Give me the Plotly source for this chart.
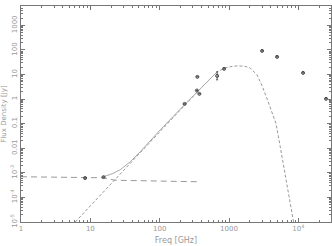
import plotly.graph_objects as go

# observed photometry (GHz, Jy)
obs_freq = [8.4, 15.5, 229, 344, 374, 350, 674, 849, 3000, 4930, 11700, 25100]
obs_flux = [6.15e-4, 6.7e-4, 0.64, 2.24, 1.64, 8.07, 8.85, 17.1, 92, 52.5, 11.7, 1.03]
obs_err_hi = [0, 0, 0, 0, 0, 0, 4.05, 0, 0, 0, 0, 0]
obs_err_lo = [0, 0, 0, 0, 0, 0, 2.75, 0, 0, 0, 0, 0]

# flat (radio) component
flat_freq = [1, 8.4, 15.3, 22.9, 73, 346]
flat_flux = [6.95e-4, 6.6e-4, 6.3e-4, 5.0e-4, 4.78e-4, 4.35e-4]

# dust component
dust_freq = [6.06, 7.15, 9.97, 13.9, 19.4, 31.9, 52.4, 102, 197, 383, 674, 879, 1109,
             1353, 1706, 2014, 2541, 3000, 3541, 4179, 4774, 5448, 6220, 7110, 7850, 8530]
dust_flux = [1e-5, 1.64e-5, 4.6e-5, 1.23e-4, 3.28e-4, 1.47e-3, 6.6e-3, 0.049, 0.367, 2.62,
             12.9, 18.7, 21.5, 22.6, 21.5, 18.7, 9.73, 3.47, 1.03, 0.305, 0.099, 0.0127,
             1.61e-3, 1.7e-4, 3.16e-5, 1e-5]

# total model
tot_freq = [15.3, 20.7, 27.0, 37.6, 52.4, 72.9, 102, 197, 383, 674]
tot_flux = [6.9e-4, 9.2e-4, 1.34e-3, 2.83e-3, 7.2e-3, 0.0202, 0.0565, 0.385, 2.67, 12.9]

x_tickvals = [1, 10, 100, 1000, 10000]
x_ticktext = ["1", "10", "100", "1000", "10<sup>4</sup>"]
y_tickvals = [1e-5, 1e-4, 1e-3, 0.01, 0.1, 1, 10, 100, 1000]
y_ticktext = ["10<sup>-5</sup>", "10<sup>-4</sup>", "10<sup>-3</sup>", "0.01", "0.1", "1",
              "10", "100", "1000"]

fig = go.Figure()
fig.add_trace(go.Scatter(x=flat_freq, y=flat_flux, mode="lines",
                         line=dict(color="#999", width=1, dash="6px,4px"), hoverinfo="skip"))
fig.add_trace(go.Scatter(x=dust_freq, y=dust_flux, mode="lines",
                         line=dict(color="#999", width=1, dash="3px,2px"), hoverinfo="skip"))
fig.add_trace(go.Scatter(x=tot_freq, y=tot_flux, mode="lines",
                         line=dict(color="#aaa", width=1), hoverinfo="skip"))
fig.add_trace(go.Scatter(x=obs_freq, y=obs_flux, mode="markers",
                         marker=dict(symbol="circle-open", size=3, color="#444",
                                     line=dict(width=1)),
                         error_y=dict(type="data", symmetric=False, array=obs_err_hi,
                                      arrayminus=obs_err_lo, color="#555", thickness=1, width=1)))

axis_common = dict(showgrid=False, zeroline=False, showline=True, linecolor="#777",
                   linewidth=1, ticks="inside", ticklen=4, tickcolor="#777",
                   mirror="ticks", automargin=False,
                   tickfont=dict(family="DejaVu Sans", size=7, color="#999"))
fig.update_xaxes(type="log", range=[0, 4.471], tickvals=x_tickvals, ticktext=x_ticktext,
                 minor=dict(ticks="inside", ticklen=2, tickcolor="#777", dtick="D1"),
                 title=dict(text="Freq [GHz]", font=dict(family="DejaVu Sans", size=8, color="#999"),
                            standoff=4),
                 **axis_common)
fig.update_yaxes(type="log", range=[-5, 3.79], tickvals=y_tickvals, ticktext=y_ticktext,
                 tickangle=-90,
                 minor=dict(ticks="inside", ticklen=2, tickcolor="#777", dtick="D1"),
                 title=dict(text="Flux Density [Jy]", font=dict(family="DejaVu Sans", size=7, color="#999"),
                            standoff=2),
                 **axis_common)
fig.update_layout(width=332, height=246, margin=dict(l=21, r=1, t=6, b=24),
                  paper_bgcolor="white", plot_bgcolor="white", showlegend=False)
fig.write_html("out.html", config={"displayModeBar": False},
               post_script="document.body.style.margin='0';document.body.style.overflow='hidden';")
